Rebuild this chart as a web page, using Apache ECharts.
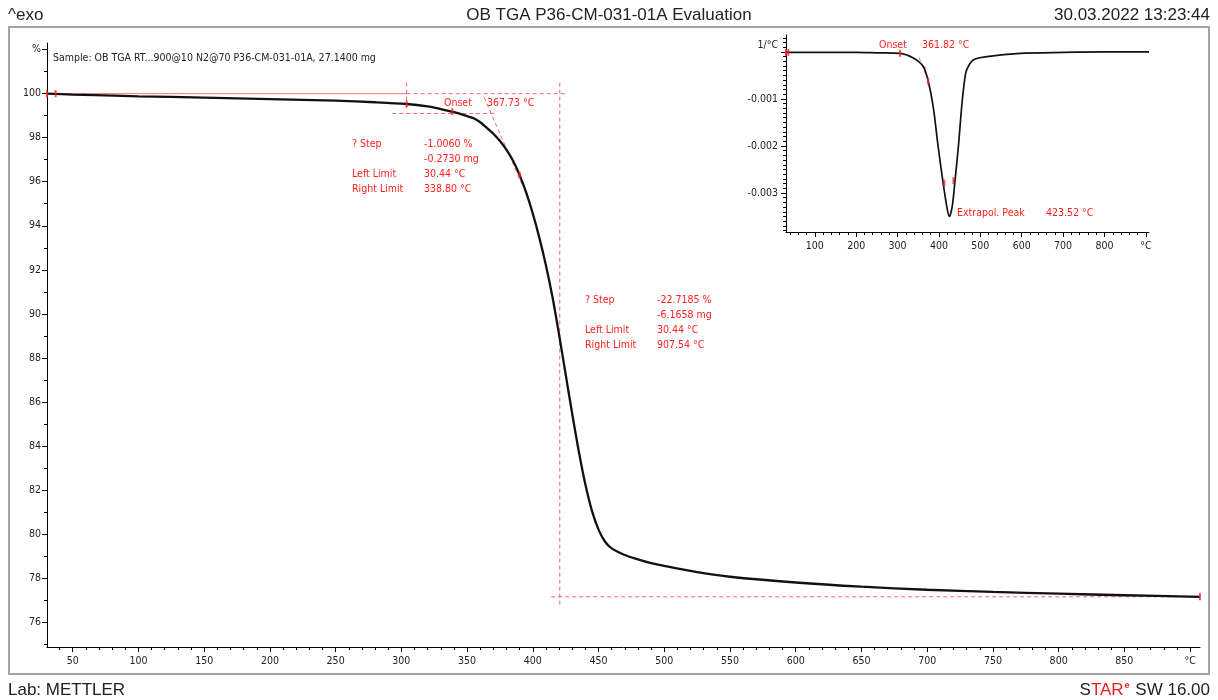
<!DOCTYPE html>
<html>
<head>
<meta charset="utf-8">
<script src="https://cdn.jsdelivr.net/npm/echarts@6/dist/echarts.min.js"></script>
<style>
html,body{margin:0;padding:0;background:#fff}
#chart{width:1218px;height:700px}
</style>
</head>
<body>
<div id="chart"></div>
<script>
// TGA mass curve: temperature (°C) and relative mass (%)
const tgaTemp = [30.44, 50, 100, 150, 200, 250, 280, 304, 320, 330, 340, 350, 355, 360, 365, 370, 375, 380, 385, 390, 395, 400, 405, 410, 415, 420, 425, 430, 435, 440, 445, 450, 455, 460, 470, 480, 490, 500, 525, 550, 600, 650, 700, 750, 800, 850, 907.54];
const tgaMass = [100.00, 99.96, 99.88, 99.82, 99.75, 99.68, 99.61, 99.53, 99.42, 99.30, 99.16, 98.98, 98.88, 98.70, 98.45, 98.18, 97.85, 97.45, 96.95, 96.30, 95.50, 94.55, 93.45, 92.20, 90.75, 89.05, 87.25, 85.45, 83.75, 82.25, 81.05, 80.20, 79.65, 79.35, 79.05, 78.85, 78.68, 78.55, 78.27, 78.06, 77.80, 77.61, 77.47, 77.37, 77.29, 77.22, 77.15];

// First derivative (DTG) of the normalised mass, 1/°C
const dtgTemp = [30.44, 100, 200, 250, 306, 338, 362, 374, 386, 398, 409, 419, 425, 432, 439, 447, 455, 462, 467, 483, 516, 596, 700, 800, 907.54];
const dtgRate = [-0.00001, -0.00001, -0.00001, -0.00002, -0.00003, -0.00013, -0.00031, -0.00062, -0.00116, -0.00201, -0.00272, -0.00329, -0.00350, -0.00329, -0.00272, -0.00201, -0.00116, -0.00060, -0.00038, -0.00017, -0.00010, -0.00003, -0.00001, 0, 0];

// Evaluation results
const tempStart = 30.44, tempEnd = 907.54;
const step1Right = 338.80, onsetMain = 367.73;
const onsetDtg = 361.82, peakDtg = 423.52;
const baseTop = 100.0, baseBottom = 77.15, inflection = 420.5;

// Tick labels
const mainXLabels = [50, 100, 150, 200, 250, 300, 350, 400, 450, 500, 550, 600, 650, 700, 750, 800, 850, 900];
const mainYLabels = [76, 78, 80, 82, 84, 86, 88, 90, 92, 94, 96, 98, 100, 102];
const insetXLabels = [100, 200, 300, 400, 500, 600, 700, 800, 900];
const insetYLabels = [-0.003, -0.002, -0.001, 0.00015];

function range(a, b, step) { const r = []; for (let i = 0; a + i * step <= b + 1e-9; i++) r.push(+(a + i * step).toFixed(6)); return r; }
const zip = (xs, ys) => xs.map((x, i) => [x, ys[i]]);

const RED = '#ff1e1e';
const DASH = '#f26a6a';
const TXT = '#222';
const tickFont = { fontFamily: '"DejaVu Sans Condensed", "DejaVu Sans", sans-serif', fontSize: 10.5, color: TXT };
const annFont = '10.5px "DejaVu Sans Condensed", "DejaVu Sans", sans-serif';
const headFont = '17px "Liberation Sans", Arial, sans-serif';

function axisPair(kind, gridIndex, min, max, minor, major, labels, fmt, margin) {
  const base = { gridIndex, type: 'value', min, max, splitLine: { show: false } };
  const pos = kind === 'x' ? 'bottom' : 'left';
  return [
    Object.assign({}, base, {
      position: pos,
      axisLine: { show: true, onZero: false, lineStyle: { color: '#000', width: 1 } },
      axisTick: { show: true, customValues: minor, length: 3, lineStyle: { color: '#000' } },
      axisLabel: { show: false }
    }),
    Object.assign({}, base, {
      position: pos,
      axisLine: { show: false, onZero: false },
      axisTick: { show: true, customValues: major, length: 5, lineStyle: { color: '#000' } },
      axisLabel: Object.assign({ show: true, customValues: labels, formatter: fmt, margin }, tickFont)
    })
  ];
}

const xAxes = [
  ...axisPair('x', 0, tempStart, tempEnd, range(40, 900, 10), mainXLabels, mainXLabels,
    v => (Math.round(v) === 900 ? '°C' : String(Math.round(v))), 9),
  ...axisPair('x', 1, tempStart, tempEnd, range(40, 900, 20), insetXLabels, insetXLabels,
    v => (Math.round(v) === 900 ? '°C' : String(Math.round(v))), 9)
];
const yAxes = [
  ...axisPair('y', 0, 74.87, 102.3, range(75, 102, 1), mainYLabels, mainYLabels,
    v => (Math.round(v) === 102 ? '%' : String(Math.round(v))), 6),
  ...axisPair('y', 1, -0.00383, 0.00036, range(-0.0038, 0.0003, 0.0001), [-0.003, -0.002, -0.001, 0], insetYLabels,
    v => (v > 0 ? '1/°C' : v.toFixed(3)), 8)
];

function seg(xi, yi, pts, dashed, color) {
  return {
    type: 'line', xAxisIndex: xi, yAxisIndex: yi, data: pts, showSymbol: false, silent: true,
    lineStyle: { color: color || DASH, width: 1, type: dashed ? [4, 3] : 'solid' }, z: 3
  };
}
function marks(xi, yi, pts) {
  return {
    type: 'scatter', xAxisIndex: xi, yAxisIndex: yi, data: pts, symbol: 'rect', symbolSize: [2, 7],
    itemStyle: { color: RED }, silent: true, z: 5
  };
}

const mainAt = (t) => tgaMass[tgaTemp.indexOf(t)];
const dtgAt = (t) => dtgRate[dtgTemp.indexOf(t)];

const series = [
  {
    type: 'line', xAxisIndex: 0, yAxisIndex: 0, data: zip(tgaTemp, tgaMass),
    showSymbol: false, smooth: 0.3,
    lineStyle: { color: '#111', width: 2.3 }, z: 4
  },
  // step construction lines
  seg(0, 0, [[tempStart, baseTop], [304, baseTop]], false, '#f07a7a'),
  seg(0, 0, [[304, baseTop], [425, baseTop]], true),
  seg(0, 0, [[304, 100.5], [304, 99.25]], true),
  seg(0, 0, [[293, 99.1], [372, 99.1]], true),
  seg(0, 0, [[363, 99.83], [392, 95.85]], true),
  seg(0, 0, [[inflection, 100.5], [inflection, 76.8]], true),
  seg(0, 0, [[414, baseBottom], [tempEnd, baseBottom]], true),
  marks(0, 0, [[tempStart, baseTop], [37, baseTop], [304, mainAt(304)], [step1Right, 99.18], [390, mainAt(390)], [tempEnd, baseBottom]]),
  {
    type: 'line', xAxisIndex: 2, yAxisIndex: 2, data: zip(dtgTemp, dtgRate),
    showSymbol: false, smooth: 0.3,
    lineStyle: { color: '#111', width: 1.7 }, z: 4
  },
  seg(2, 2, [[352, -0.00012], [370, -0.00052]], true),
  seg(2, 2, [[350, -0.00020], [373, -0.00038]], true),
  marks(2, 2, [[tempStart, dtgAt(tempStart)], [36, dtgAt(tempStart)], [306, dtgAt(306)], [374, dtgAt(374)], [413, -0.00279], [435, -0.00274]])
];

function txt(x, y, text, color, align, font) {
  return {
    type: 'text', x, y, silent: true,
    style: { text, fill: color || RED, font: font || annFont, align: align || 'left', verticalAlign: 'middle',
      textAlign: align || 'left', textVerticalAlign: 'middle' }
  };
}

const graphics = [
  { type: 'rect', silent: true, shape: { x: 9, y: 27, width: 1200, height: 647 },
    style: { fill: 'none', stroke: '#a3a3a3', lineWidth: 2 }, z: -1 },
  txt(8, 15, '^exo', TXT, 'left', headFont),
  txt(609, 15, 'OB TGA P36-CM-031-01A Evaluation', TXT, 'center', headFont),
  txt(1210, 15, '30.03.2022 13:23:44', TXT, 'right', headFont),
  txt(8, 690, 'Lab: METTLER', TXT, 'left', headFont),
  {
    type: 'text', x: 1210, y: 690, silent: true,
    style: {
      text: '{k|S}{r|TAR}{e|e}{k| SW 16.00}', align: 'right', verticalAlign: 'middle',
      textAlign: 'right', textVerticalAlign: 'middle',
      rich: {
        k: { font: headFont, fill: TXT, color: TXT, lineHeight: 18 },
        r: { font: headFont, fill: '#e81e1e', color: '#e81e1e', lineHeight: 18 },
        e: { font: 'bold 9px "Liberation Sans", Arial, sans-serif', fill: '#e81e1e', color: '#e81e1e', lineHeight: 18, verticalAlign: 'top', padding: [0, 1, 0, 1] }
      }
    }
  },
  txt(53, 58, 'Sample: OB TGA RT...900@10 N2@70 P36-CM-031-01A, 27.1400 mg', TXT),
  txt(444, 103, 'Onset'), txt(487, 103, onsetMain.toFixed(2) + ' °C'),
  txt(352, 144, '? Step'), txt(424, 144, '-1.0060 %'),
  txt(424, 159, '-0.2730 mg'),
  txt(352, 174, 'Left Limit'), txt(424, 174, tempStart.toFixed(2) + ' °C'),
  txt(352, 189, 'Right Limit'), txt(424, 189, step1Right.toFixed(2) + ' °C'),
  txt(585, 300, '? Step'), txt(657, 300, '-22.7185 %'),
  txt(657, 315, '-6.1658 mg'),
  txt(585, 330, 'Left Limit'), txt(657, 330, tempStart.toFixed(2) + ' °C'),
  txt(585, 345, 'Right Limit'), txt(657, 345, tempEnd.toFixed(2) + ' °C'),
  txt(879, 45, 'Onset'), txt(922, 45, onsetDtg.toFixed(2) + ' °C'),
  txt(957, 213, 'Extrapol. Peak'), txt(1046, 213, peakDtg.toFixed(2) + ' °C')
];

const chart = echarts.init(document.getElementById('chart'), null, { renderer: 'canvas' });
chart.setOption({
  animation: false,
  backgroundColor: '#fff',
  grid: [
    { left: 47, top: 43, width: 1153, height: 604, containLabel: false, outerBoundsMode: 'none' },
    { left: 786, top: 35, width: 363, height: 197, containLabel: false, outerBoundsMode: 'none' }
  ],
  xAxis: xAxes,
  yAxis: yAxes,
  series,
  graphic: graphics
});
</script>
</body>
</html>
